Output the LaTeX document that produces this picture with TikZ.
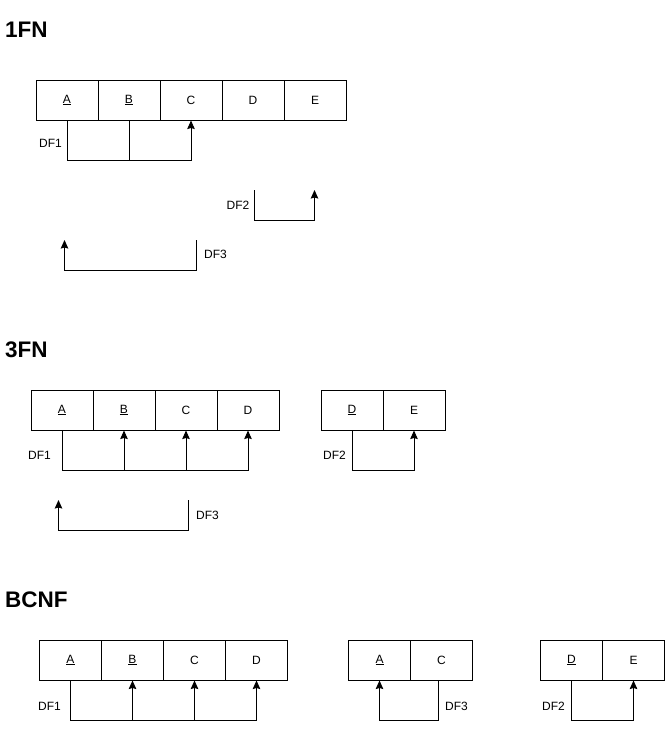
\documentclass[tikz,border=0pt]{standalone}
\usepackage{fontspec}
\setmainfont{Liberation Sans}
\usetikzlibrary{arrows.meta}
\begin{document}
\begin{tikzpicture}[x=1pt,y=-1pt,
  cell/.style={draw,line width=1pt,rectangle,minimum width=62pt,minimum height=40pt,inner sep=0pt,font=\fontsize{12}{14}\selectfont},
  lbl/.style={inner sep=0pt,anchor=west,font=\fontsize{12}{14}\selectfont},
  head/.style={inner sep=0pt,anchor=west,font=\fontsize{22.5}{25}\selectfont\bfseries},
  conn/.style={line width=1pt},
  arr/.style={line width=1pt,-{Stealth[length=8.5pt,width=7.5pt,inset=1pt]}}]
\useasboundingbox (0,0) rectangle (665,729);
% headings
\node[head] (h1) at (5,29.5) {1FN};
\node[head] (h2) at (5,349.5) {3FN};
\node[head] (h3) at (5,600) {BCNF};
% ---- 1FN
\node[cell] (r1a) at (67,100) {\underline{A}};
\node[cell] (r1b) at (129,100) {\underline{B}};
\node[cell] (r1c) at (191,100) {C};
\node[cell] (r1d) at (253,100) {D};
\node[cell] (r1e) at (315,100) {E};
\draw[arr] (r1a.south) -- ++(0,40) -| (r1c.south);
\draw[conn] (r1b.south) -- ++(0,40);
\node[lbl] (l1a) at (39,143) {DF1};
\coordinate (d2s) at (254.5,190);
\coordinate (d2e) at (314.5,190);
\draw[arr] (d2s) -- ++(0,30) -| (d2e);
\node[lbl] (l1b) at (226.5,205) {DF2};
\coordinate (d3s) at (196,240);
\coordinate (d3e) at (64.5,240);
\draw[arr] (d3s) -- ++(0,30) -| (d3e);
\node[lbl] (l1c) at (204,254) {DF3};
% ---- 3FN
\node[cell] (r2a) at (62,410) {\underline{A}};
\node[cell] (r2b) at (124,410) {\underline{B}};
\node[cell] (r2c) at (186,410) {C};
\node[cell] (r2d) at (248,410) {D};
\draw[arr] (r2a.south) -- ++(0,40) -| (r2d.south);
\draw[arr] (r2b.south) ++(0,40) -- (r2b.south);
\draw[arr] (r2c.south) ++(0,40) -- (r2c.south);
\node[lbl] (l2a) at (28,455) {DF1};
\node[cell] (r2dd) at (352,410) {\underline{D}};
\node[cell] (r2de) at (414,410) {E};
\draw[arr] (r2dd.south) -- ++(0,40) -| (r2de.south);
\node[lbl] (l2b) at (323,455) {DF2};
\coordinate (e3s) at (188.5,500);
\coordinate (e3e) at (58.5,500);
\draw[arr] (e3s) -- ++(0,30) -| (e3e);
\node[lbl] (l2c) at (196,515) {DF3};
% ---- BCNF
\node[cell] (r3a) at (70.5,660) {\underline{A}};
\node[cell] (r3b) at (132.5,660) {\underline{B}};
\node[cell] (r3c) at (194.5,660) {C};
\node[cell] (r3d) at (256.5,660) {D};
\draw[arr] (r3a.south) -- ++(0,40) -| (r3d.south);
\draw[arr] (r3b.south) ++(0,40) -- (r3b.south);
\draw[arr] (r3c.south) ++(0,40) -- (r3c.south);
\node[lbl] (l3a) at (38,706) {DF1};
\node[cell] (r3ma) at (379.5,660) {\underline{A}};
\node[cell] (r3mc) at (441.5,660) {C};
\draw[arr] ([xshift=-3pt]r3mc.south) -- ++(0,40) -| (r3ma.south);
\node[lbl] (l3b) at (445,706) {DF3};
\node[cell] (r3rd) at (571.5,660) {\underline{D}};
\node[cell] (r3re) at (633.5,660) {E};
\draw[arr] (r3rd.south) -- ++(0,40) -| (r3re.south);
\node[lbl] (l3c) at (542,706) {DF2};
\end{tikzpicture}
\end{document}
